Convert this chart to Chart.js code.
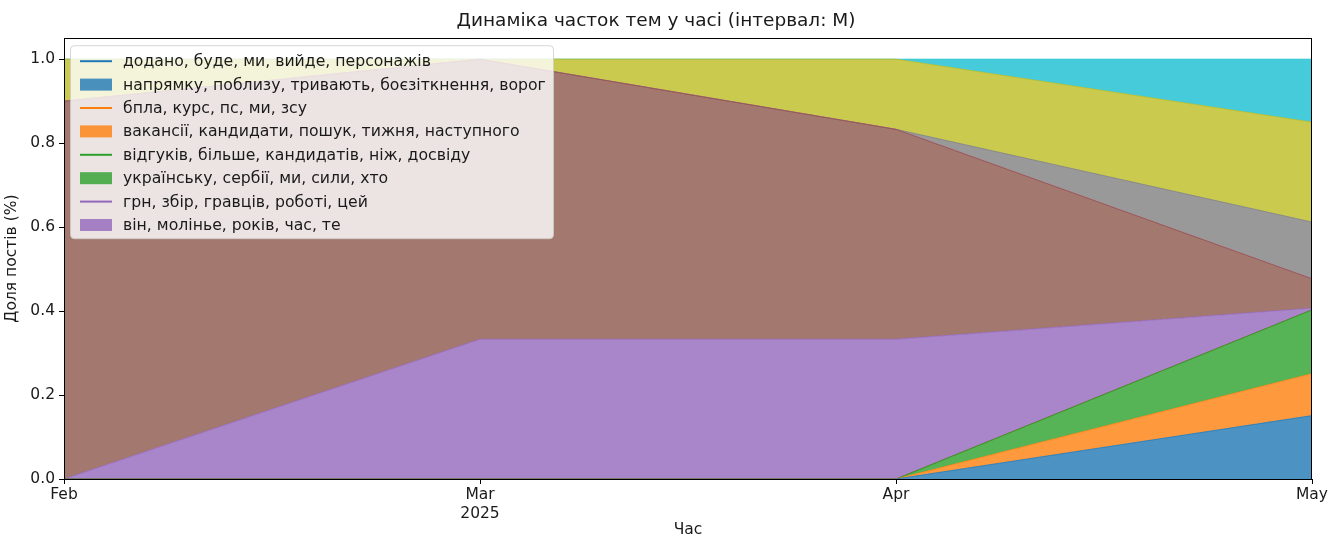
<!DOCTYPE html>
<html>
<head>
<meta charset="utf-8">
<title>Динаміка часток тем у часі</title>
<script src="https://cdn.jsdelivr.net/npm/chart.js@4.4.1/dist/chart.umd.min.js"></script>
<style>
  html, body { margin: 0; padding: 0; background: #fff; }
  #wrap { width: 1328px; height: 539px; }
</style>
</head>
<body>
<div id="wrap"><canvas id="myChart"></canvas></div>
<script>
'use strict';

// data (share of posts per month, stacked)
var months = ['Feb', ['Mar', '2025'], 'Apr', 'May'];
var blueTopic = [0, 0, 0, 0.151];
var orangeTopic = [0, 0, 0, 0.10];
var greenTopic = [0, 0, 0, 0.152];
var redTopic = [0, 0, 0, 0];
var purpleTopic = [0, 0.333, 0.333, 0.004];
var brownTopic = [0.9, 0.667, 0.5, 0.07];
var pinkTopic = [0, 0, 0, 0];
var grayTopic = [0, 0, 0, 0.135];
var oliveTopic = [0.1, 0, 0.167, 0.238];
var cyanTopic = [0, 0, 0, 0.15];
var yTicks = [0, 0.2, 0.4, 0.6, 0.8, 1.0];

// legend as it appears in the picture
var legendLabels = [
  'додано, буде, ми, вийде, персонажів',
  'напрямку, поблизу, тривають, боєзіткнення, ворог',
  'бпла, курс, пс, ми, зсу',
  'вакансії, кандидати, пошук, тижня, наступного',
  'відгуків, більше, кандидатів, ніж, досвіду',
  'українську, сербії, ми, сили, хто',
  'грн, збір, гравців, роботі, цей',
  'він, молінье, років, час, те'
];
var legendKinds = ['line', 'box', 'line', 'box', 'line', 'box', 'line', 'box'];
var legendColors = ['#1f77b4', '#1f77b4', '#ff7f0e', '#ff7f0e', '#2ca02c', '#2ca02c', '#9467bd', '#9467bd'];

var FONT = '"DejaVu Sans", sans-serif';
var TEXT = '#1a1a1a';

function rgba(hex, a) {
  var n = parseInt(hex.slice(1), 16);
  return 'rgba(' + (n >> 16) + ',' + ((n >> 8) & 255) + ',' + (n & 255) + ',' + a + ')';
}

function area(label, values, color, first) {
  return {
    label: label,
    data: values,
    backgroundColor: rgba(color, 0.8),
    borderColor: rgba(color, 0.8),
    borderWidth: 1,
    pointRadius: 0,
    pointHoverRadius: 0,
    tension: 0,
    fill: first ? 'origin' : '-1'
  };
}

// frame round the plot + legend box drawn on top of the areas
var frameAndLegend = {
  id: 'frameAndLegend',
  afterDraw: function(chart) {
    var c = chart.ctx;
    var a = chart.chartArea;
    c.save();
    c.strokeStyle = '#000';
    c.lineWidth = 1;
    c.strokeRect(Math.round(a.left) + 0.5, Math.round(a.top) + 0.5,
      Math.round(a.right - a.left) - 1, Math.round(a.bottom - a.top));

    var bx = a.left + 6, by = a.top + 7, bw = 483, bh = 193;
    c.beginPath();
    c.roundRect(bx + 0.5, by + 0.5, bw, bh, 4);
    c.fillStyle = 'rgba(255,255,255,0.8)';
    c.fill();
    c.strokeStyle = 'rgba(204,204,204,0.8)';
    c.stroke();

    c.font = '15.7px ' + FONT;
    c.textBaseline = 'middle';
    for (var i = 0; i < legendLabels.length; i++) {
      var y = by + 16 + i * 23.4;
      if (legendKinds[i] === 'line') {
        c.strokeStyle = legendColors[i];
        c.lineWidth = 2;
        c.beginPath();
        c.moveTo(bx + 10, y);
        c.lineTo(bx + 42, y);
        c.stroke();
      } else {
        c.fillStyle = rgba(legendColors[i], 0.8);
        c.fillRect(bx + 10, y - 6, 32, 12);
      }
      c.fillStyle = TEXT;
      c.fillText(legendLabels[i], bx + 53, y + 1);
    }
    c.restore();
  }
};

var ctx = document.getElementById('myChart').getContext('2d');
var chart = new Chart(ctx, {
  type: 'line',
  data: {
    labels: months,
    datasets: [
      area('t0', blueTopic, '#1f77b4', true),
      area('t1', orangeTopic, '#ff7f0e'),
      area('t2', greenTopic, '#2ca02c'),
      area('t3', redTopic, '#d62728'),
      area('t4', purpleTopic, '#9467bd'),
      area('t5', brownTopic, '#8c564b'),
      area('t6', pinkTopic, '#e377c2'),
      area('t7', grayTopic, '#7f7f7f'),
      area('t8', oliveTopic, '#bcbd22'),
      area('t9', cyanTopic, '#17becf')
    ]
  },
  options: {
    responsive: true,
    maintainAspectRatio: false,
    animation: false,
    layout: { padding: { left: 0, right: 16, top: 0, bottom: 0 } },
    plugins: {
      legend: { display: false },
      tooltip: { enabled: false },
      title: {
        display: true,
        text: 'Динаміка часток тем у часі (інтервал: M)',
        color: TEXT,
        font: { family: FONT, size: 18.5, weight: 'normal' },
        padding: { top: 10, bottom: 6 }
      }
    },
    scales: {
      x: {
        offset: false,
        grid: { display: true, drawOnChartArea: false, drawTicks: true, tickLength: 5, color: '#000' },
        border: { display: false },
        ticks: { color: TEXT, font: { family: FONT, size: 15.5 }, padding: 2, maxRotation: 0, autoSkip: false },
        title: { display: true, text: 'Час', color: TEXT, font: { family: FONT, size: 15.5 }, padding: { top: 0, bottom: 0 } },
        afterFit: function(scale) {
          scale.height = 60;
          scale.paddingLeft = 0;
          scale.paddingRight = 0;
        }
      },
      y: {
        stacked: true,
        min: 0,
        max: 1.05,
        grid: { display: true, drawOnChartArea: false, drawTicks: true, tickLength: 5, color: '#000' },
        border: { display: false },
        ticks: {
          color: TEXT,
          font: { family: FONT, size: 15.5 },
          padding: 4,
          callback: function(v) { return v.toFixed(1); }
        },
        afterBuildTicks: function(scale) {
          scale.ticks = yTicks.map(function(v) { return { value: v }; });
        },
        title: { display: true, text: 'Доля постів (%)', color: TEXT, font: { family: FONT, size: 15.5 }, padding: { top: 3, bottom: 0 } },
        afterFit: function(scale) {
          scale.width = 64;
        }
      }
    }
  },
  plugins: [frameAndLegend]
});
</script>
</body>
</html>
